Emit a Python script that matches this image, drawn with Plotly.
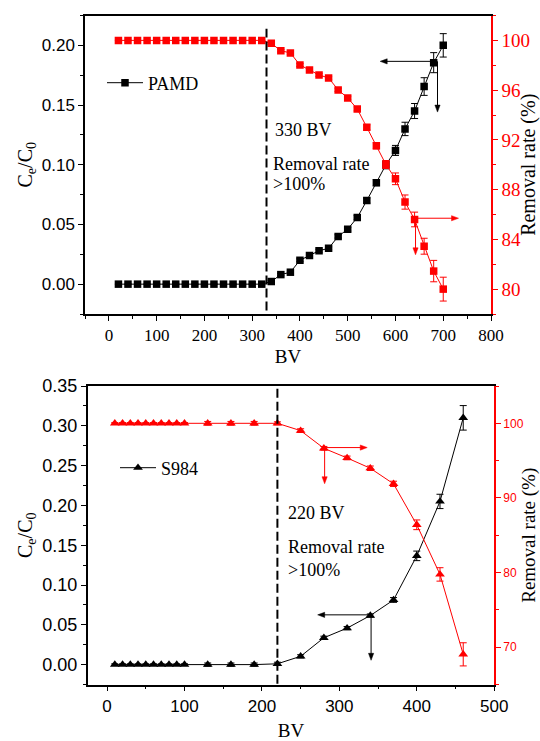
import plotly.graph_objects as go

# ---------------- PAMD column ----------------
bv_pamd = [20, 40, 60, 80, 100, 120, 140, 160, 180, 200, 220, 240, 260, 280, 300, 320,
           340, 360, 380, 400, 420, 440, 460, 480, 500, 520, 540, 560, 580, 600, 620, 640,
           660, 680, 700]
ce_pamd = [0, 0, 0, 0, 0, 0, 0, 0, 0, 0, 0, 0, 0, 0, 0, 0,
           0.0022, 0.008, 0.010, 0.020, 0.024, 0.028, 0.030, 0.040, 0.046, 0.0558, 0.070,
           0.085, 0.100, 0.112, 0.130, 0.1450, 0.1655, 0.1855, 0.2000]
ce_pamd_err = [0, 0, 0, 0, 0, 0, 0, 0, 0, 0, 0, 0, 0, 0, 0, 0,
               0.0008, 0.0010, 0.0010, 0.0012, 0.0012, 0.0012, 0.0012, 0.0014, 0.0015,
               0.0017, 0.0021, 0.0025, 0.0034, 0.0042, 0.0056, 0.0063, 0.0074, 0.0084, 0.0098]
rr_pamd = [100, 100, 100, 100, 100, 100, 100, 100, 100, 100, 100, 100, 100, 100, 100, 100,
           99.76, 99.17, 98.99, 98.02, 97.62, 97.22, 96.98, 96.02, 95.37, 94.49, 93.01,
           91.52, 90.02, 88.87, 87.0, 85.6, 83.45, 81.45, 80.0]
rr_pamd_err = [0, 0, 0, 0, 0, 0, 0, 0, 0, 0, 0, 0, 0, 0, 0, 0,
               0.08, 0.10, 0.10, 0.12, 0.12, 0.12, 0.12, 0.13, 0.14, 0.16, 0.20, 0.24,
               0.32, 0.47, 0.57, 0.59, 0.64, 0.86, 0.96]

# ---------------- S984 column ----------------
bv_s984 = [10, 20, 30, 40, 50, 60, 70, 80, 90, 100, 130, 160, 190, 220, 250, 280, 310,
           340, 370, 400, 430, 460]
ce_s984 = [0, 0, 0, 0, 0, 0, 0, 0, 0, 0, 0, 0, 0, 0.001, 0.0104, 0.0337, 0.0458,
           0.0616, 0.0812, 0.1366, 0.2050, 0.3100]
ce_s984_err = [0.001, 0.001, 0.001, 0.001, 0.001, 0.001, 0.001, 0.001, 0.001, 0.001,
               0.002, 0.002, 0.002, 0.002, 0.002, 0.002, 0.002, 0.002, 0.003, 0.006,
               0.009, 0.0154]
rr_s984 = [100, 100, 100, 100, 100, 100, 100, 100, 100, 100, 100, 100, 100, 100, 99.02,
           96.65, 95.36, 93.98, 91.89, 86.4, 79.75, 69.04]
rr_s984_err = [0.1, 0.1, 0.1, 0.1, 0.1, 0.1, 0.1, 0.1, 0.1, 0.1, 0.25, 0.25, 0.25, 0.2,
               0.25, 0.25, 0.25, 0.3, 0.35, 0.65, 0.9, 1.55]

# Breakthrough points marked with dashed lines
bt_pamd = 330
bt_s984 = 220

# Axis settings
x_range_top = [-50, 800]
ce_range_top = [-0.025, 0.225]
rr_range_top = [78, 102]
x_range_bot = [-25, 500]
ce_range_bot = [-0.025, 0.35]
rr_range_bot = [65, 105]

RED = "#ff0000"
BLACK = "#000000"
SERIF = "Liberation Serif, Times New Roman, serif"
SANS = "Liberation Sans, Arial, sans-serif"

W, H = 540, 741


def px_x(p):
    return p / W


def px_y(p):
    return 1 - p / H


# plot-area placement (pixels in the page)
top_left, top_right, top_top, top_bottom = 85, 491, 15.5, 314
bot_left, bot_right, bot_top, bot_bottom = 87.7, 494.2, 386, 684.5

dom_x_top = [px_x(top_left), px_x(top_right)]
dom_y_top = [px_y(top_bottom), px_y(top_top)]
dom_x_bot = [px_x(bot_left), px_x(bot_right)]
dom_y_bot = [px_y(bot_bottom), px_y(bot_top)]

fig = go.Figure()

fig.add_trace(go.Scatter(
    x=bv_pamd, y=ce_pamd, xaxis="x", yaxis="y", name="PAMD", legend="legend",
    mode="lines+markers",
    line=dict(color=BLACK, width=1),
    marker=dict(symbol="square", size=7.5, color=BLACK),
    error_y=dict(type="data", array=ce_pamd_err, color=BLACK, thickness=1, width=3.5),
))
fig.add_trace(go.Scatter(
    x=bv_pamd, y=rr_pamd, xaxis="x", yaxis="y2", showlegend=False,
    mode="lines+markers",
    line=dict(color=RED, width=1),
    marker=dict(symbol="square", size=7.5, color=RED),
    error_y=dict(type="data", array=rr_pamd_err, color=RED, thickness=1, width=3.5),
))
fig.add_trace(go.Scatter(
    x=bv_s984, y=ce_s984, xaxis="x2", yaxis="y3", name="S984", legend="legend2",
    mode="lines+markers",
    line=dict(color=BLACK, width=1),
    marker=dict(symbol="triangle-up", size=8.5, color=BLACK),
    error_y=dict(type="data", array=ce_s984_err, color=BLACK, thickness=1, width=3.5),
))
fig.add_trace(go.Scatter(
    x=bv_s984, y=rr_s984, xaxis="x2", yaxis="y4", showlegend=False,
    mode="lines+markers",
    line=dict(color=RED, width=1),
    marker=dict(symbol="triangle-up", size=8.5, color=RED),
    error_y=dict(type="data", array=rr_s984_err, color=RED, thickness=1, width=3.5),
))

axis_common = dict(showgrid=False, zeroline=False, showline=True, linewidth=1.5,
                   ticks="outside", ticklen=5, tickwidth=1.2, automargin=False)

fig.update_layout(
    width=W, height=H,
    margin=dict(l=0, r=0, t=0, b=0),
    paper_bgcolor="white", plot_bgcolor="white",
    xaxis=dict(**axis_common, domain=dom_x_top, anchor="y", range=x_range_top,
               dtick=100, tick0=0, linecolor=BLACK, tickcolor=BLACK, mirror=True,
               minor=dict(dtick=50, ticks="outside", ticklen=3, tickcolor=BLACK),
               tickfont=dict(family=SERIF, size=17, color=BLACK),
               title=dict(text="BV", font=dict(family=SERIF, size=19, color=BLACK),
                          standoff=6)),
    yaxis=dict(**axis_common, domain=dom_y_top, anchor="x", range=ce_range_top,
               dtick=0.05, tick0=0, tickformat=".2f", linecolor=BLACK, tickcolor=BLACK,
               minor=dict(dtick=0.025, ticks="outside", ticklen=3, tickcolor=BLACK),
               tickfont=dict(family=SANS, size=17, color=BLACK),
               title=dict(text="C<sub>e</sub>/C<sub>0</sub>",
                          font=dict(family=SERIF, size=20, color=BLACK), standoff=4)),
    yaxis2=dict(**axis_common, overlaying="y", side="right", anchor="x",
                range=rr_range_top, dtick=4, tick0=0, linecolor=RED, tickcolor=RED,
                minor=dict(dtick=2, ticks="outside", ticklen=3, tickcolor=RED),
                tickfont=dict(family=SERIF, size=19, color=RED),
                title=dict(text="Removal rate (%)",
                           font=dict(family=SERIF, size=20, color=BLACK), standoff=4)),
    xaxis2=dict(**axis_common, domain=dom_x_bot, anchor="y3", range=x_range_bot,
                dtick=100, tick0=0, linecolor=BLACK, tickcolor=BLACK, mirror=True,
                minor=dict(dtick=50, ticks="outside", ticklen=3, tickcolor=BLACK),
                tickfont=dict(family=SANS, size=17, color=BLACK),
                title=dict(text="BV", font=dict(family=SERIF, size=19, color=BLACK),
                           standoff=19)),
    xaxis3=dict(overlaying="x2", side="top", anchor="y3", range=x_range_bot,
                showgrid=False, zeroline=False, showline=False, showticklabels=False,
                automargin=False,
                ticks="inside", ticklen=3, tickwidth=1, tickcolor=BLACK, dtick=50, tick0=0),
    yaxis3=dict(**axis_common, domain=dom_y_bot, anchor="x2", range=ce_range_bot,
                dtick=0.05, tick0=0, tickformat=".2f", linecolor=BLACK, tickcolor=BLACK,
                minor=dict(dtick=0.025, ticks="outside", ticklen=3, tickcolor=BLACK),
                tickfont=dict(family=SANS, size=18, color=BLACK),
                title=dict(text="C<sub>e</sub>/C<sub>0</sub>",
                           font=dict(family=SERIF, size=20, color=BLACK), standoff=4)),
    yaxis4=dict(**axis_common, overlaying="y3", side="right", anchor="x2",
                range=rr_range_bot, dtick=10, tick0=0, linecolor=RED, tickcolor=RED,
                minor=dict(dtick=5, ticks="outside", ticklen=3, tickcolor=RED),
                tickfont=dict(family=SANS, size=12, color=RED),
                title=dict(text="Removal rate (%)",
                           font=dict(family=SERIF, size=19, color=BLACK), standoff=8)),
    legend=dict(x=px_x(102), y=px_y(83), xanchor="left", yanchor="middle",
                bgcolor="rgba(0,0,0,0)", borderwidth=0, itemwidth=36,
                font=dict(family=SERIF, size=18, color=BLACK)),
    legend2=dict(x=px_x(115), y=px_y(468), xanchor="left", yanchor="middle",
                 bgcolor="rgba(0,0,0,0)", borderwidth=0, itemwidth=36,
                 font=dict(family=SERIF, size=18, color=BLACK)),
)

# Dashed breakthrough markers
fig.add_shape(type="line", xref="x", yref="y", x0=bt_pamd, x1=bt_pamd, y0=-0.022, y1=0.214,
              line=dict(color=BLACK, width=2, dash="9px,4px"))
fig.add_shape(type="line", xref="x2", yref="y3", x0=bt_s984, x1=bt_s984, y0=-0.024, y1=0.348,
              line=dict(color=BLACK, width=2, dash="9px,4px"))

txt_font = dict(family=SERIF, size=18, color=BLACK)


def note(text, x, y, xref, yref):
    fig.add_annotation(text=text, x=x, y=y, xref=xref, yref=yref, showarrow=False,
                       xanchor="left", yanchor="middle", font=txt_font)


note("330 BV", 343, 0.1288, "x", "y")
note("Removal rate", 339, 0.1009, "x", "y")
note("&gt;100%", 339, 0.0842, "x", "y")
note("220 BV", 231, 0.190, "x2", "y3")
note("Removal rate", 231, 0.1475, "x2", "y3")
note("&gt;100%", 231, 0.119, "x2", "y3")

# data units per pixel on each axis, from ranges and plot-area sizes
per_px = {
    "x": (x_range_top[1] - x_range_top[0]) / (top_right - top_left),
    "y": (ce_range_top[1] - ce_range_top[0]) / (top_bottom - top_top),
    "y2": (rr_range_top[1] - rr_range_top[0]) / (top_bottom - top_top),
    "x2": (x_range_bot[1] - x_range_bot[0]) / (bot_right - bot_left),
    "y3": (ce_range_bot[1] - ce_range_bot[0]) / (bot_bottom - bot_top),
    "y4": (rr_range_bot[1] - rr_range_bot[0]) / (bot_bottom - bot_top),
}


def arrow(x0, y0, x1, y1, xref, yref, color, head_len=7, head_half=2.6):
    """Pointer from (x0, y0) to (x1, y1) ending in a filled head."""
    fx, fy = per_px[xref], per_px[yref]
    # direction in pixel space
    dxp = (x1 - x0) / fx
    dyp = (y1 - y0) / fy
    norm = (dxp ** 2 + dyp ** 2) ** 0.5
    ux, uy = dxp / norm, dyp / norm
    bx, by = -head_len * ux, -head_len * uy
    nx, ny = -uy * head_half, ux * head_half
    fig.add_shape(type="line", xref=xref, yref=yref, x0=x0, y0=y0,
                  x1=x1 + bx * 0.6 * fx, y1=y1 + by * 0.6 * fy,
                  line=dict(color=color, width=1))
    p1 = (x1 + (bx + nx) * fx, y1 + (by + ny) * fy)
    p2 = (x1 + (bx - nx) * fx, y1 + (by - ny) * fy)
    path = f"M {x1},{y1} L {p1[0]},{p1[1]} L {p2[0]},{p2[1]} Z"
    fig.add_shape(type="path", xref=xref, yref=yref, path=path,
                  fillcolor=color, line=dict(color=color, width=0.5))


# Axis pointers: which curve belongs to which axis
arrow(684, 0.1866, 568, 0.1866, "x", "y", BLACK)
arrow(688, 0.1866, 688, 0.1441, "x", "y", BLACK)
arrow(642, 85.70, 732, 85.70, "x", "y2", RED)
arrow(642, 85.70, 642, 82.76, "x", "y2", RED)
arrow(281, 96.75, 336, 96.75, "x2", "y4", RED)
arrow(281, 96.75, 281, 91.9, "x2", "y4", RED)
arrow(341, 0.0625, 272, 0.0625, "x2", "y3", BLACK)
arrow(341, 0.0625, 341, 0.0054, "x2", "y3", BLACK)

fig.write_html("out.html")
